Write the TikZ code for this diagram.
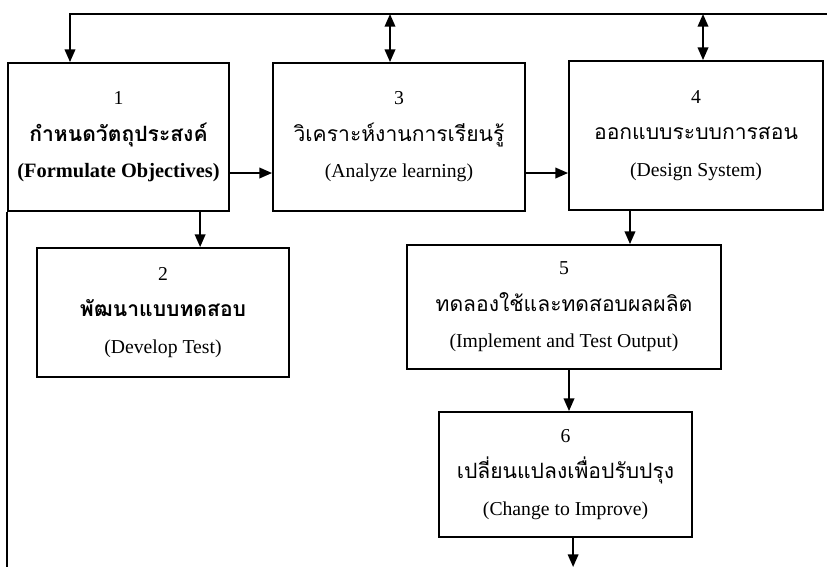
\documentclass[tikz,border=0pt]{standalone}
\usepackage{fontspec}
\setmainfont{Liberation Serif}
\newfontfamily\thaifont[Script=Thai]{Loma}
\usetikzlibrary{arrows.meta, positioning, calc}

\newcommand{\thai}[1]{{\thaifont\fontsize{15}{26}\selectfont #1}}

\begin{document}
\begin{tikzpicture}[
        x=0.025cm, y=-0.025cm,
        box/.style={rectangle, draw, line width=1.3pt, align=center, inner sep=0pt, font=\fontsize{14}{26}\selectfont},
        arr/.style={line width=1.3pt, -{Triangle[length=9pt, width=7.5pt]}},
        biarr/.style={line width=1.3pt, {Triangle[length=9pt, width=7.5pt]}-{Triangle[length=9pt, width=7.5pt]}}
    ]
        \useasboundingbox (0,0) rectangle (827,567);

        \coordinate (topl) at (70,14);
        \coordinate (topr) at (827,14);
        \coordinate (bottom) at (8,567);

        \node[box, minimum width=5.525cm, minimum height=3.7cm] (objectives) at (118.5,137)
            {1\\ \thai{\bfseries กำหนดวัตถุประสงค์}\\ {\fontsize{14.5}{26}\selectfont\bfseries (Formulate Objectives)}};
        \node[box, minimum width=6.3cm, minimum height=3.7cm] (analyze) at (399,137)
            {3\\ \thai{วิเคราะห์งานการเรียนรู้}\\ (Analyze learning)};
        \node[box, minimum width=6.35cm, minimum height=3.725cm] (design) at (696,135.5)
            {4\\ \thai{ออกแบบระบบการสอน}\\ (Design System)};
        \node[box, minimum width=6.3cm, minimum height=3.225cm] (devtest) at (163,312.5)
            {2\\ \thai{\bfseries พัฒนาแบบทดสอบ}\\ (Develop Test)};
        \node[box, minimum width=7.85cm, minimum height=3.1cm] (implement) at (564,307)
            {5\\ \thai{ทดลองใช้และทดสอบผลผลิต}\\ (Implement and Test Output)};
        \node[box, minimum width=6.325cm, minimum height=3.125cm] (improve) at (565.5,474.5)
            {6\\ \thai{เปลี่ยนแปลงเพื่อปรับปรุง}\\ (Change to Improve)};

        % feedback line along the top
        \draw[arr] (topr) -- (topl) -- (topl |- objectives.north);
        \draw[biarr] ([xshift=-0.225cm]analyze.north |- topr) -- ([xshift=-0.225cm]analyze.north);
        \draw[biarr] ([xshift=0.175cm]design.north |- topr) -- ([xshift=0.175cm]design.north);

        \draw[arr] ([yshift=-0.9cm]objectives.east) -- ([yshift=-0.9cm]objectives.east -| analyze.west);
        \draw[arr] ([yshift=-0.9cm]analyze.east) -- ([yshift=-0.9cm]analyze.east -| design.west);
        \draw[arr] ([xshift=2.04cm]objectives.south) -- ([xshift=2.04cm]objectives.south |- devtest.north);
        \draw[arr] ([xshift=-1.65cm]design.south) -- ([xshift=-1.65cm]design.south |- implement.north);
        \draw[arr] ([xshift=0.125cm]implement.south) -- ([xshift=0.125cm]implement.south |- improve.north);
        \draw[arr] ([xshift=0.19cm]improve.south) -- ([xshift=0.19cm]improve.south |- bottom);

        % left edge down to the bottom
        \draw[line width=1.7pt] (objectives.south west) -- (objectives.south west |- bottom);
    \end{tikzpicture}
\end{document}
